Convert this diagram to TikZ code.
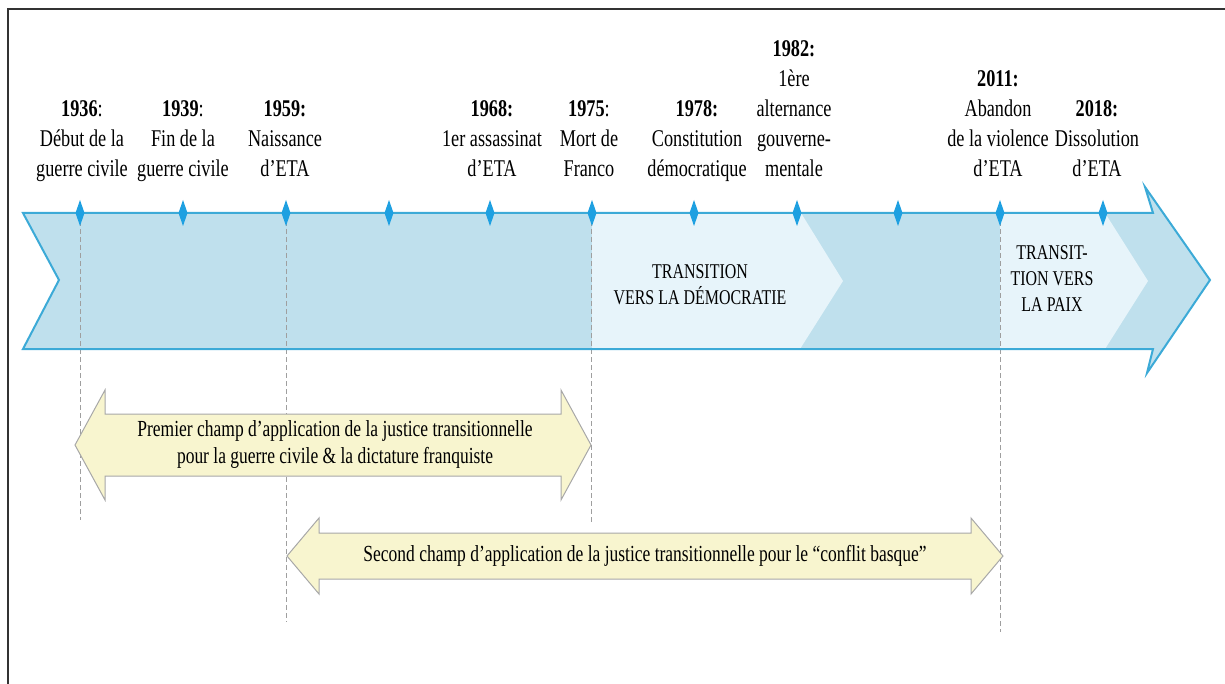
\documentclass[tikz,border=0pt]{standalone}
\usepackage{fontspec}
\setmainfont{Liberation Serif}
\newfontfamily\condfont[FakeStretch=0.76]{Liberation Serif}
\usetikzlibrary{calc}
\definecolor{bandfill}{HTML}{BFE0ED}
\definecolor{bandlight}{HTML}{E7F4FA}
\definecolor{bandline}{HTML}{3CAAD7}
\definecolor{tickcol}{HTML}{1EA0E1}
\definecolor{yfill}{HTML}{F8F5CF}
\definecolor{yline}{HTML}{A8A8A8}
\definecolor{framecol}{HTML}{333333}
\tikzset{
  yearlabel/.style={align=center, anchor=base, inner sep=0pt, font=\condfont\fontsize{24}{30}\selectfont},
  bandtext/.style={align=center, anchor=center, inner sep=0pt, font=\condfont\fontsize{21}{26}\selectfont},
  spantext/.style={align=center, anchor=center, inner sep=0pt, font=\condfont\fontsize{23}{27}\selectfont},
  guide/.style={draw=gray!75, line width=0.8pt, dash pattern=on 5pt off 3pt},
  spanarrow/.style={draw=yline, fill=yfill, line width=1pt, line join=miter},
  bandoutline/.style={draw=bandline, line width=2pt, line join=miter},
  tickmark/.style={fill=tickcol}
}
\begin{document}
\begin{tikzpicture}[x=1pt,y=-1pt]
\useasboundingbox (0,0) rectangle (1225,684);
% frame
\draw[framecol, line width=1.5pt] (8,684) -- (8,9) -- (1225,9);
% band
\fill[bandfill] (23,213) -- (1153,213) -- (1145,187) -- (1210,280) -- (1147,373) -- (1153,349) -- (23,349) -- (59,280) -- cycle;
\fill[bandlight] (592,213) -- (801,213) -- (843,281) -- (800,349) -- (592,349) -- cycle;
\fill[bandlight] (1000,213) -- (1105,213) -- (1148,281) -- (1105,349) -- (1000,349) -- cycle;
% tick coordinates
\foreach \n/\x in {t1936/80, t1939/183, t1959/286, tA/389, t1968/490, t1975/592, t1978/694, t1982/797, tB/898, t2011/1000, t2018/1103}{
  \coordinate (\n) at (\x,213);
}
% guide end points
\coordinate (e1936) at (80,520);
\coordinate (e1959) at (286,622);
\coordinate (e1975) at (591,522);
\coordinate (e2011) at (1000,632);
\draw[guide] (t1936) -- (e1936);
\draw[guide] (t1959) -- (e1959);
\draw[guide] ($(t1975)+(-1,0)$) -- (e1975);
\draw[guide] (t2011) -- (e2011);
% band outline
\draw[bandoutline] (23,213) -- (1153,213) -- (1145,187) -- (1210,280) -- (1147,373) -- (1153,349) -- (23,349) -- (59,280) -- cycle;
% diamonds
\foreach \n in {t1936,t1939,t1959,tA,t1968,t1975,t1978,t1982,tB,t2011,t2018}{
  \fill[tickmark] (\n) +(0,-13) -- +(4.5,0) -- +(0,13) -- +(-4.5,0) -- cycle;
}
% labels (anchor base = last line baseline)
\node[yearlabel] (l1936) at (82,177) {{\bfseries 1936}:\\Début de la\\guerre civile};
\node[yearlabel] (l1939) at (183,177) {{\bfseries 1939}:\\Fin de la\\guerre civile};
\node[yearlabel] (l1959) at (285,177) {{\bfseries 1959:}\\Naissance\\d’ETA};
\node[yearlabel] (l1968) at (492,177) {{\bfseries 1968:}\\1er assassinat\\d’ETA};
\node[yearlabel] (l1975) at (589,177) {{\bfseries 1975}:\\Mort de\\Franco};
\node[yearlabel] (l1978) at (697,177) {{\bfseries 1978:}\\Constitution\\démocratique};
\node[yearlabel] (l1982) at (794,177) {{\bfseries 1982:}\\1ère\\alternance\\gouverne-\\mentale};
\node[yearlabel] (l2011) at (998,177) {{\bfseries 2011:}\\Abandon\\de la violence\\d’ETA};
\node[yearlabel] (l2018) at (1097,177) {{\bfseries 2018:}\\Dissolution\\d’ETA};
% band texts
\node[bandtext] (demo) at (700,285) {TRANSITION\\VERS LA DÉMOCRATIE};
\node[bandtext] (paix) at (1052,279) {TRANSIT-\\TION VERS\\LA PAIX};
% span arrows
\draw[spanarrow] (75,445) -- (105,390) -- (105,414) -- (561,414) -- (561,390) -- (591,445) -- (561,500) -- (561,476) -- (105,476) -- (105,500) -- cycle;
\node[spantext] (first) at (335,445) {Premier champ d’application de la justice transitionnelle\\pour la guerre civile \& la dictature franquiste};
\draw[spanarrow] (287,556) -- (319,518) -- (319,533) -- (971,533) -- (971,518) -- (1003,556) -- (971,594) -- (971,579) -- (319,579) -- (319,594) -- cycle;
\node[spantext] (second) at (645,556) {Second champ d’application de la justice transitionnelle pour le “conflit basque”};
\end{tikzpicture}
\end{document}
